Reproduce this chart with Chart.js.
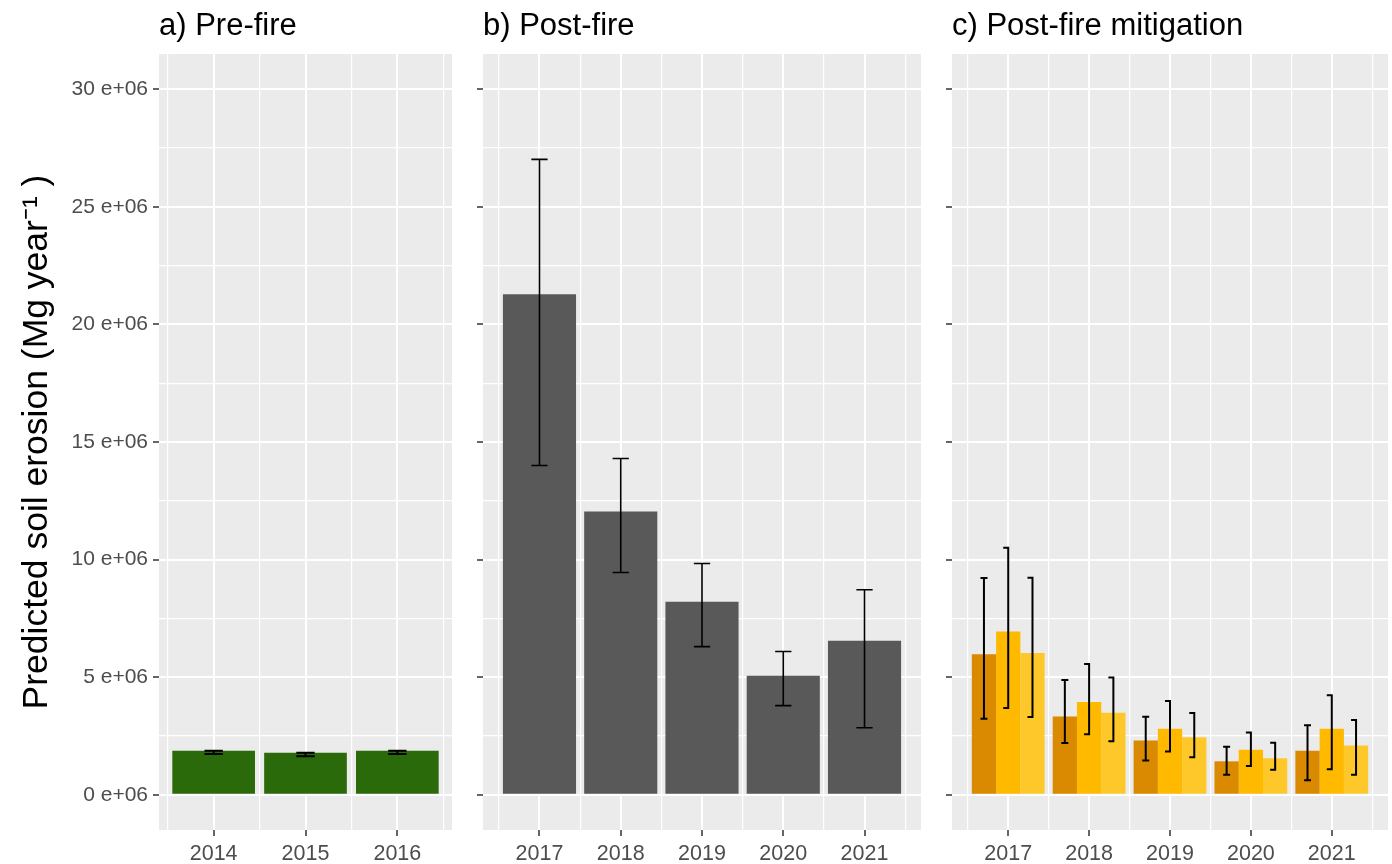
<!DOCTYPE html>
<html>
<head>
<meta charset="utf-8">
<script src="https://cdn.jsdelivr.net/npm/chart.js@4.4.1/dist/chart.umd.min.js"></script>
<style>
  html, body { margin: 0; padding: 0; background: #fff; }
  #wrap { position: relative; width: 1392px; height: 864px; overflow: hidden; }
  canvas { position: absolute; top: 0; }
</style>
</head>
<body>
<div id="wrap">
  <canvas id="cA" width="470" height="864" style="left:0"></canvas>
  <canvas id="cB" width="460" height="864" style="left:470px"></canvas>
  <canvas id="cC" width="460" height="864" style="left:932px"></canvas>
</div>
<script>
'use strict';

/* ---- values (Mg per year) ---- */
var PRE_YEARS  = [2014, 2015, 2016];
var PRE_MEAN   = [1.87e6, 1.79e6, 1.87e6];
var PRE_LO     = [1.73e6, 1.64e6, 1.73e6];
var PRE_HI     = [1.87e6, 1.79e6, 1.87e6];
var PRE_MINOR  = [2013.5, 2014.5, 2015.5, 2016.5];

var POST_YEARS = [2017, 2018, 2019, 2020, 2021];
var POST_MEAN  = [21.28e6, 12.04e6, 8.21e6, 5.06e6, 6.55e6];
var POST_LO    = [14.0e6, 9.45e6, 6.30e6, 3.79e6, 2.85e6];
var POST_HI    = [27.02e6, 14.3e6, 9.83e6, 6.09e6, 8.72e6];
var POST_MINOR = [2016.5, 2017.5, 2018.5, 2019.5, 2020.5, 2021.5];

var MIT1_MEAN = [5.97e6, 3.33e6, 2.31e6, 1.42e6, 1.87e6];
var MIT1_LO   = [3.23e6, 2.20e6, 1.46e6, 0.85e6, 0.62e6];
var MIT1_HI   = [9.22e6, 4.88e6, 3.32e6, 2.04e6, 2.95e6];
var MIT2_MEAN = [6.94e6, 3.94e6, 2.81e6, 1.91e6, 2.81e6];
var MIT2_LO   = [3.69e6, 2.57e6, 1.84e6, 1.22e6, 1.08e6];
var MIT2_HI   = [10.50e6, 5.56e6, 3.99e6, 2.65e6, 4.23e6];
var MIT3_MEAN = [6.03e6, 3.49e6, 2.44e6, 1.55e6, 2.09e6];
var MIT3_LO   = [3.31e6, 2.27e6, 1.59e6, 1.06e6, 0.85e6];
var MIT3_HI   = [9.23e6, 4.98e6, 3.48e6, 2.21e6, 3.18e6];

var Y_TICKS = [0, 2.5e6, 5e6, 7.5e6, 10e6, 12.5e6, 15e6, 17.5e6, 20e6,
               22.5e6, 25e6, 27.5e6, 30e6];

var FONT = "'Liberation Sans', Arial, Helvetica, sans-serif";

function pts(xs, ys) {
  return xs.map(function (x, i) { return { x: x, y: ys[i] }; });
}

/* panel background, like ggplot's grey panel */
var panelBg = {
  id: 'panelBg',
  beforeDraw: function (chart) {
    var a = chart.chartArea, ctx = chart.ctx;
    ctx.save();
    ctx.fillStyle = '#EBEBEB';
    ctx.fillRect(a.left, a.top, a.right - a.left, a.bottom - a.top);
    ctx.restore();
  }
};

function stripTitle(text) {
  return {
    id: 'stripTitle',
    afterDraw: function (chart) {
      var ctx = chart.ctx;
      ctx.save();
      ctx.font = '31px ' + FONT;
      ctx.fillStyle = '#000';
      ctx.textBaseline = 'alphabetic';
      ctx.textAlign = 'left';
      ctx.fillText(text, chart.chartArea.left, 35);
      ctx.restore();
    }
  };
}

/* sets: [{lo, hi, capL, capR}] ; capWidth in axis units wins if given */
function errorBars(sets, lineWidth, capWidth) {
  return {
    id: 'errorBars',
    afterDatasetsDraw: function (chart) {
      var ctx = chart.ctx, ys = chart.scales.y, xs = chart.scales.x;
      ctx.save();
      ctx.strokeStyle = '#000';
      ctx.lineWidth = lineWidth;
      sets.forEach(function (s, di) {
        chart.getDatasetMeta(di).data.forEach(function (bar, i) {
          var x = bar.x;
          var y0 = ys.getPixelForValue(s.lo[i]);
          var y1 = ys.getPixelForValue(s.hi[i]);
          var l, r;
          if (capWidth) {
            var xv = xs.getValueForPixel(x);
            l = xs.getPixelForValue(xv - capWidth / 2);
            r = xs.getPixelForValue(xv + capWidth / 2);
          } else {
            l = x + s.capL; r = x + s.capR;
          }
          ctx.beginPath();
          ctx.moveTo(x, y0); ctx.lineTo(x, y1);
          ctx.moveTo(l, y0); ctx.lineTo(r, y0);
          ctx.moveTo(l, y1); ctx.lineTo(r, y1);
          ctx.stroke();
        });
      });
      ctx.restore();
    }
  };
}

function isMajorY(v) { return Math.abs(v % 5e6) < 1; }

function makePanel(id, cfg) {
  var yScale = {
    type: 'linear',
    min: -1.5e6, max: 31.5e6,
    afterBuildTicks: function (ax) { ax.ticks = Y_TICKS.map(function (v) { return { value: v }; }); },
    afterFit: function (ax) { ax.width = cfg.yWidth; },
    border: { display: false },
    grid: {
      color: '#FFFFFF',
      lineWidth: function (c) { return c.tick && isMajorY(c.tick.value) ? 2 : 1.2; },
      tickColor: function (c) { return c.tick && isMajorY(c.tick.value) ? '#333333' : 'rgba(0,0,0,0)'; },
      tickLength: 6, tickWidth: 1.5
    },
    ticks: {
      autoSkip: false, padding: 5, color: '#4D4D4D',
      font: { family: FONT, size: 21 },
      callback: function (v) {
        if (!cfg.yLabels || !isMajorY(v)) return '';
        return (v / 1e6) + ' e+06';
      }
    },
    title: cfg.yLabels ? {
      display: true,
      text: 'Predicted soil erosion (Mg year\u207B\u00B9 )',
      color: '#000',
      font: { family: FONT, size: 35.5 },
      padding: { top: 16, bottom: 0 }
    } : { display: false }
  };

  return new Chart(document.getElementById(id), {
    type: 'bar',
    data: { datasets: cfg.datasets },
    plugins: [panelBg, stripTitle(cfg.title), errorBars(cfg.err, cfg.errWidth, cfg.capWidth)],
    options: {
      responsive: false,
      animation: false,
      events: [],
      layout: { padding: { top: 54, right: cfg.padRight, left: 0, bottom: 0 } },
      plugins: { legend: { display: false }, tooltip: { enabled: false } },
      datasets: { bar: { barPercentage: 1, categoryPercentage: 0.9, borderWidth: 0 } },
      scales: {
        x: {
          type: 'linear', offset: false,
          min: cfg.xRange[0], max: cfg.xRange[1],
          afterBuildTicks: function (ax) { ax.ticks = cfg.years.map(function (v) { return { value: v }; }); },
          afterFit: function (ax) { ax.height = 34; },
          border: { display: false },
          grid: { offset: false, color: '#FFFFFF', lineWidth: 2, tickColor: '#333333', tickLength: 6, tickWidth: 1.5 },
          ticks: {
            autoSkip: false, maxRotation: 0, padding: 5, color: '#4D4D4D',
            font: { family: FONT, size: 21.5 },
            callback: function (v) { return String(v); }
          }
        },
        xMinor: {
          type: 'linear', position: 'bottom', offset: false,
          min: cfg.xRange[0], max: cfg.xRange[1],
          afterBuildTicks: function (ax) { ax.ticks = cfg.minor.map(function (v) { return { value: v }; }); },
          afterFit: function (ax) { ax.height = 0; },
          border: { display: false },
          grid: { offset: false, color: '#FFFFFF', lineWidth: 1.2, drawTicks: false },
          ticks: { display: false }
        },
        y: yScale
      }
    }
  });
}

makePanel('cA', {
  title: 'a) Pre-fire',
  years: PRE_YEARS, minor: PRE_MINOR, xRange: [2013.405, 2016.595],
  yWidth: 159, padRight: 18, yLabels: true,
  datasets: [{ data: pts(PRE_YEARS, PRE_MEAN), backgroundColor: '#2A6A0B' }],
  err: [{ lo: PRE_LO, hi: PRE_HI }], errWidth: 2, capWidth: 0.2
});

makePanel('cB', {
  title: 'b) Post-fire',
  years: POST_YEARS, minor: POST_MINOR, xRange: [2016.305, 2021.695],
  yWidth: 13, padRight: 9, yLabels: false,
  datasets: [{ data: pts(POST_YEARS, POST_MEAN), backgroundColor: '#595959' }],
  err: [{ lo: POST_LO, hi: POST_HI }], errWidth: 1.6, capWidth: 0.2
});

makePanel('cC', {
  title: 'c) Post-fire mitigation',
  years: POST_YEARS, minor: POST_MINOR, xRange: [2016.305, 2021.695],
  yWidth: 20, padRight: 4, yLabels: false,
  datasets: [
    { data: pts(POST_YEARS, MIT1_MEAN), backgroundColor: '#DA8A00' },
    { data: pts(POST_YEARS, MIT2_MEAN), backgroundColor: '#FFBA00' },
    { data: pts(POST_YEARS, MIT3_MEAN), backgroundColor: '#FFC82A' }
  ],
  err: [
    { lo: MIT1_LO, hi: MIT1_HI, capL: -3.5, capR: 3.5 },
    { lo: MIT2_LO, hi: MIT2_HI, capL: -5, capR: 1 },
    { lo: MIT3_LO, hi: MIT3_HI, capL: -5, capR: 1 }
  ],
  errWidth: 2, capWidth: 0
});
</script>
</body>
</html>
